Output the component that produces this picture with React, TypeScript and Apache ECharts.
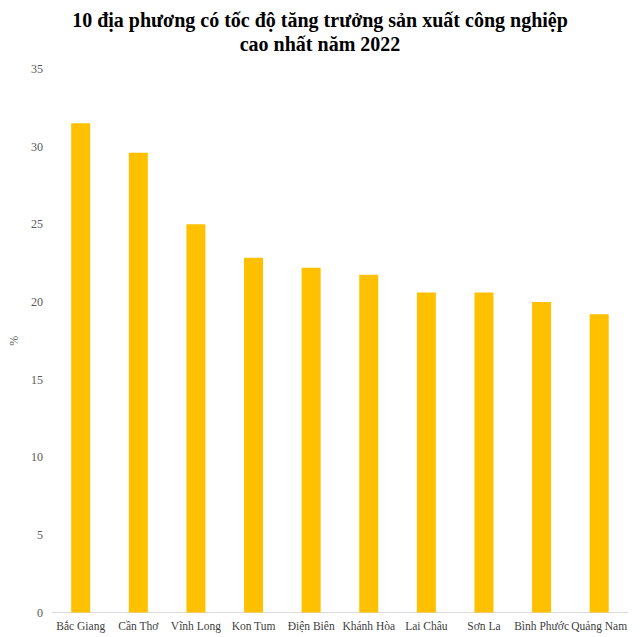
import React, { useEffect, useRef } from "react";
import * as echarts from "echarts";

const titleLines = [
  "10 địa phương có tốc độ tăng trưởng sản xuất công nghiệp",
  "cao nhất năm 2022",
];
const provinces = [
  "Bắc Giang",
  "Cần Thơ",
  "Vĩnh Long",
  "Kon Tum",
  "Điện Biên",
  "Khánh Hòa",
  "Lai Châu",
  "Sơn La",
  "Bình Phước",
  "Quảng Nam",
];
const growth = [31.5, 29.6, 25.0, 22.85, 22.2, 21.75, 20.6, 20.6, 20.0, 19.2];
const yAxisName = "%";

export default function App() {
  const ref = useRef<HTMLDivElement>(null);
  useEffect(() => {
    if (!ref.current) return;
    const chart = echarts.init(ref.current, null, { renderer: "svg" });
    const serif = "Liberation Serif";
    chart.setOption({
      animation: false,
      backgroundColor: "#ffffff",
      textStyle: { fontFamily: serif },
      title: {
        text: titleLines.join("\n"),
        left: "center",
        top: 3,
        textStyle: {
          fontFamily: serif,
          fontWeight: "bold",
          fontSize: 20,
          lineHeight: 24,
          color: "#000000",
        },
      },
      grid: { left: 51, right: 12, top: 69, bottom: 24.5, containLabel: false },
      xAxis: {
        type: "category",
        data: provinces,
        axisLine: { show: true, lineStyle: { color: "#d9d9d9", width: 1 } },
        axisTick: { show: false },
        axisLabel: {
          interval: 0,
          fontFamily: serif,
          fontSize: 11.5,
          color: "#404040",
          margin: 7,
        },
      },
      yAxis: {
        type: "value",
        min: 0,
        max: 35,
        interval: 5,
        name: yAxisName,
        nameLocation: "middle",
        nameGap: 28,
        nameRotate: 90,
        nameTextStyle: { fontFamily: serif, fontSize: 12, color: "#595959" },
        axisLine: { show: false },
        axisTick: { show: false },
        splitLine: { show: false },
        axisLabel: {
          fontFamily: serif,
          fontSize: 12,
          color: "#595959",
          margin: 9,
        },
      },
      series: [
        {
          type: "bar",
          data: growth,
          barWidth: "33%",
          itemStyle: { color: "#FFC000" },
        },
      ],
    });
    return () => chart.dispose();
  }, []);
  return (
    <div
      ref={ref}
      style={{ width: 640, height: 637, position: "absolute", left: 0, top: 0 }}
    />
  );
}
